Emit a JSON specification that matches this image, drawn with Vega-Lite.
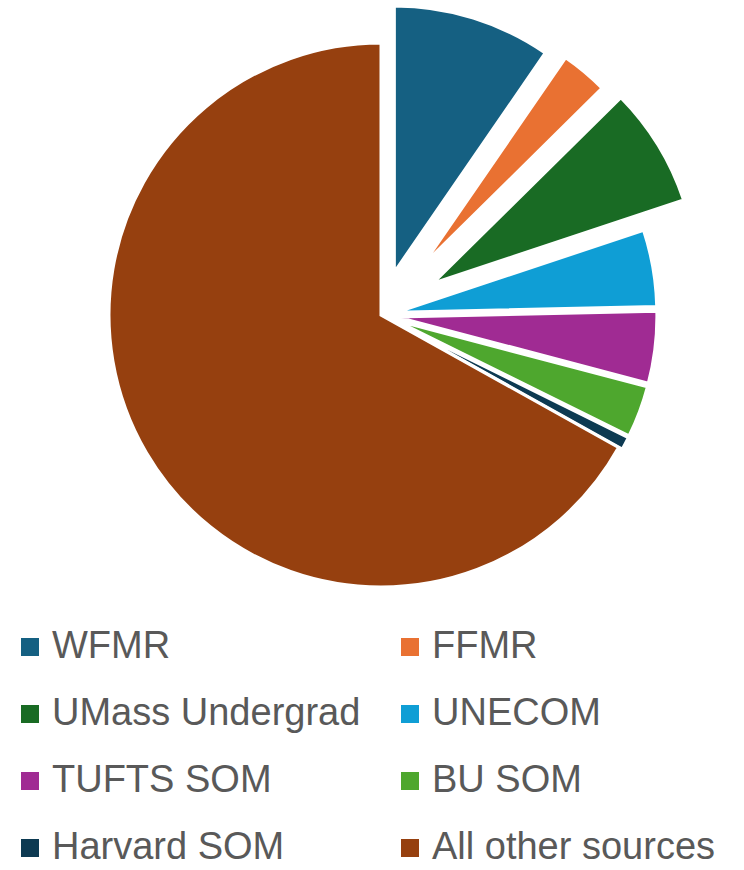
{
  "$schema": "https://vega.github.io/schema/vega-lite/v6.json",
  "autosize": {"type": "none"},
  "width": 726,
  "height": 630,
  "padding": {"left": 18, "top": 0, "right": 0, "bottom": 240},
  "background": "white",
  "data": {
    "values": [
      {"source": "WFMR", "share": 9.6, "rank": 1},
      {"source": "FFMR", "share": 3.0, "rank": 2},
      {"source": "UMass Undergrad", "share": 7.3, "rank": 3},
      {"source": "UNECOM", "share": 4.75, "rank": 4},
      {"source": "TUFTS SOM", "share": 4.45, "rank": 5},
      {"source": "BU SOM", "share": 3.2, "rank": 6},
      {"source": "Harvard SOM", "share": 0.8, "rank": 7},
      {"source": "All other sources", "share": 66.9, "rank": 8}
    ]
  },
  "mark": {
    "type": "arc",
    "stroke": "white",
    "strokeWidth": 3,
    "radius": {"expr": "datum.source == 'All other sources' ? 272 : datum.source == 'WFMR' ? 266 : datum.source == 'FFMR' ? 252 : datum.source == 'UMass Undergrad' ? 264 : 260"},
    "xOffset": {"expr": "(datum.source == 'WFMR' ? 45 : datum.source == 'FFMR' ? 65 : datum.source == 'UMass Undergrad' ? 61 : datum.source == 'All other sources' ? 0 : 16) * sin((scale('theta', datum.share_start) + scale('theta', datum.share_end)) / 2)"},
    "yOffset": {"expr": "-(datum.source == 'WFMR' ? 45 : datum.source == 'FFMR' ? 65 : datum.source == 'UMass Undergrad' ? 61 : datum.source == 'All other sources' ? 0 : 16) * cos((scale('theta', datum.share_start) + scale('theta', datum.share_end)) / 2)"}
  },
  "encoding": {
    "theta": {"field": "share", "type": "quantitative", "stack": true},
    "order": {"field": "rank", "type": "quantitative"},
    "color": {
      "field": "source",
      "type": "nominal",
      "scale": {
        "domain": ["WFMR", "FFMR", "UMass Undergrad", "UNECOM", "TUFTS SOM", "BU SOM", "Harvard SOM", "All other sources"],
        "range": ["#156082", "#E97132", "#196B24", "#0F9ED5", "#A02B93", "#4EA72E", "#0D3A52", "#96400F"]
      },
      "legend": {
        "title": null,
        "orient": "none",
        "legendX": -7,
        "legendY": 628,
        "columns": 2,
        "direction": "horizontal",
        "symbolType": "square",
        "symbolSize": 324,
        "symbolStrokeWidth": 0,
        "labelFont": "Liberation Sans",
        "labelFontSize": 38,
        "labelColor": "#595959",
        "labelLimit": 500,
        "labelOffset": 3,
        "columnPadding": 30,
        "rowPadding": 29
      }
    }
  }
}
